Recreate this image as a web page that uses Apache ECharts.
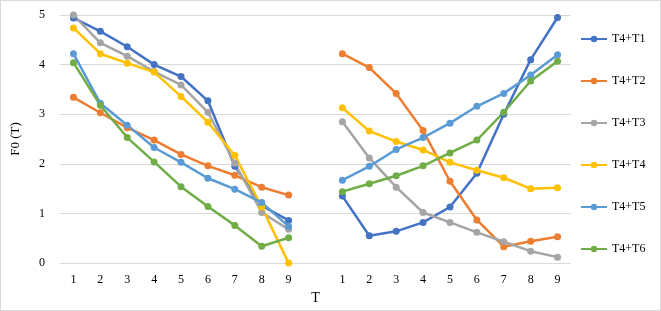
<!DOCTYPE html>
<html>
<head>
<meta charset="utf-8">
<script src="https://cdn.jsdelivr.net/npm/echarts@6/dist/echarts.min.js"></script>
<style>
  html, body { margin: 0; padding: 0; background: #fff; }
  #chart { width: 661px; height: 311px; box-sizing: border-box; border: 1px solid #d9d9d9; }
</style>
</head>
<body>
<div id="chart"></div>
<script>
// T 轴：左右两组 1..9，中间留一个空位
const tLabels = ['1', '2', '3', '4', '5', '6', '7', '8', '9']
const seriesNames = ['T4+T1', 'T4+T2', 'T4+T3', 'T4+T4', 'T4+T5', 'T4+T6']
const colors = ['#4472C4', '#ED7D31', '#A5A5A5', '#FFC000', '#5B9BD5', '#70AD47']
const yTicks = [0, 1, 2, 3, 4, 5]

// 左组
const leftT1 = [4.94, 4.67, 4.36, 4.0, 3.76, 3.27, 1.95, 1.16, 0.86]
const leftT2 = [3.34, 3.03, 2.73, 2.48, 2.19, 1.96, 1.77, 1.53, 1.37]
const leftT3 = [5.0, 4.44, 4.17, 3.86, 3.59, 3.04, 2.01, 1.02, 0.68]
const leftT4 = [4.74, 4.22, 4.03, 3.85, 3.36, 2.84, 2.17, 1.13, 0.0]
const leftT5 = [4.22, 3.22, 2.78, 2.33, 2.03, 1.71, 1.49, 1.22, 0.74]
const leftT6 = [4.04, 3.18, 2.53, 2.04, 1.54, 1.14, 0.76, 0.34, 0.51]

// 右组
const rightT1 = [1.35, 0.55, 0.64, 0.82, 1.13, 1.81, 3.0, 4.1, 4.95]
const rightT2 = [4.22, 3.94, 3.42, 2.67, 1.65, 0.87, 0.33, 0.44, 0.53]
const rightT3 = [2.85, 2.12, 1.53, 1.02, 0.82, 0.62, 0.43, 0.24, 0.12]
const rightT4 = [3.13, 2.66, 2.45, 2.28, 2.03, 1.87, 1.72, 1.5, 1.52]
const rightT5 = [1.67, 1.95, 2.29, 2.53, 2.82, 3.16, 3.42, 3.79, 4.2]
const rightT6 = [1.44, 1.6, 1.76, 1.96, 2.22, 2.48, 3.04, 3.67, 4.07]

const leftGroup = [leftT1, leftT2, leftT3, leftT4, leftT5, leftT6]
const rightGroup = [rightT1, rightT2, rightT3, rightT4, rightT5, rightT6]

const categories = [...tLabels, '', ...tLabels]
const gapNulls = tLabels.map(() => null)

const font = 'Liberation Serif, Times New Roman, serif'

function makeSeries(name, color, data) {
  return {
    name,
    type: 'line',
    data,
    symbol: 'circle',
    symbolSize: 7,
    lineStyle: { color, width: 2.5 },
    itemStyle: { color },
    emphasis: { disabled: true },
  }
}

const series = []
seriesNames.forEach((name, i) => {
  series.push(makeSeries(name, colors[i], [...leftGroup[i], null, ...gapNulls]))
  series.push(makeSeries(name, colors[i], [...gapNulls, null, ...rightGroup[i]]))
})

const chart = echarts.init(document.getElementById('chart'), null, { renderer: 'canvas' })
chart.setOption({
  animation: false,
  grid: { left: 50, right: 89, top: 14, bottom: 39 },
  legend: {
    data: seriesNames,
    orient: 'vertical',
    left: 574,
    top: 27,
    itemWidth: 26,
    itemHeight: 8,
    itemGap: 30,
    textStyle: { fontFamily: font, fontSize: 12, color: '#000' },
  },
  xAxis: {
    type: 'category',
    data: categories,
    boundaryGap: true,
    name: 'T',
    nameLocation: 'middle',
    nameGap: 24,
    nameTextStyle: { fontFamily: font, fontSize: 14, color: '#000' },
    axisLine: { show: false },
    axisTick: { show: false },
    axisLabel: { interval: 0, fontFamily: font, fontSize: 12, color: '#000', margin: 11 },
  },
  yAxis: {
    type: 'value',
    min: yTicks[0],
    max: yTicks[yTicks.length - 1],
    interval: 1,
    name: 'F0 (T)',
    nameLocation: 'middle',
    nameGap: 38,
    nameTextStyle: { fontFamily: font, fontSize: 13, color: '#000' },
    axisLine: { show: false },
    axisTick: { show: false },
    axisLabel: { fontFamily: font, fontSize: 12, color: '#000', margin: 15 },
    splitLine: { lineStyle: { color: '#d9d9d9', width: 1 } },
  },
  series,
})
</script>
</body>
</html>
